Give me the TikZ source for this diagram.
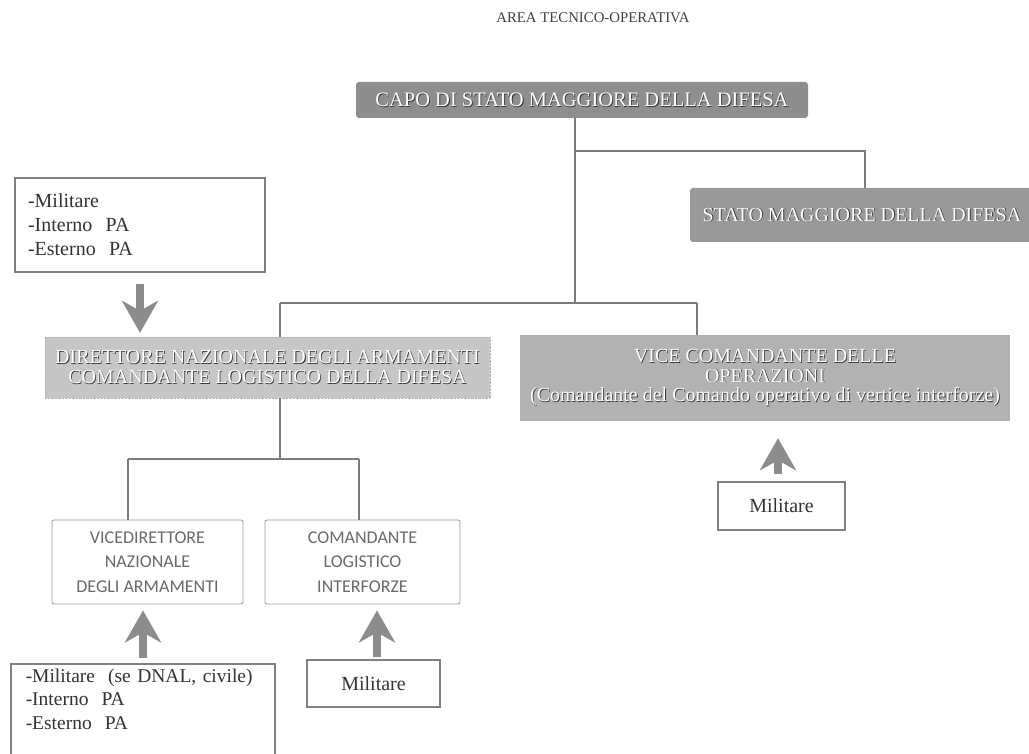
\documentclass[tikz,border=0pt]{standalone}
\usepackage{fontspec}
\setmainfont{Liberation Serif}
\newfontfamily\carl{Carlito}
\usetikzlibrary{arrows.meta,calc}
\newcommand\emb[1]{\rlap{\hspace{0.8pt}\raisebox{-0.8pt}{\textcolor{black!80}{#1}}}\textcolor{white}{#1}}
\definecolor{linec}{HTML}{7C7C7C}
\definecolor{darkfill}{HTML}{8E8E8E}
\definecolor{midfill}{HTML}{B2B2B2}
\definecolor{lightfill}{HTML}{C6C6C6}
\definecolor{sanstext}{HTML}{6A6A6A}
\begin{document}
\begin{tikzpicture}[x=1pt,y=-1pt,
  conn/.style={draw=linec, line width=1.3pt},
  darkbox/.style={fill=darkfill, rounded corners=3pt, inner sep=0pt, align=center,
    font=\fontsize{20.5}{20.5}\selectfont},
  embbox/.style={inner sep=0pt, align=center, font=\fontsize{20}{19.5}\selectfont},
  listbox/.style={draw=black!50, line width=1.5pt, fill=white, align=left,
    font=\fontsize{20}{24}\selectfont, text=black!80},
  sansbox/.style={draw=black!40, line width=0.8pt, rounded corners=2pt, fill=white,
    align=center, font=\carl\fontsize{18}{24.5}\selectfont, text=sanstext, inner sep=0pt},
  barrow/.style={draw=black!45, line width=8pt,
    -{Stealth[length=32pt,width=36pt,inset=10pt,fill=black!45]}}
]
\useasboundingbox (0,0) rectangle (1029,754);
\clip (0,0) rectangle (1029,754);

\node[font=\fontsize{14.8}{17}\selectfont, text=black!75] (title) at (593,18) {AREA TECNICO-OPERATIVA};

\node[darkbox, minimum width=452pt, minimum height=36pt] (capo) at (582,100)
  {\emb{CAPO DI STATO MAGGIORE DELLA DIFESA}};
\node[darkbox, fill=darkfill!90!white, minimum width=350pt, minimum height=54pt,
  font=\fontsize{20}{20}\selectfont] (stato) at (865,215)
  {\emb{STATO MAGGIORE DELLA DIFESA}\hspace*{6pt}};

\node[embbox, fill=lightfill, draw=black!30, densely dotted, minimum width=445pt, minimum height=61pt] (dir) at (267.5,367.5)
  {\emb{DIRETTORE NAZIONALE DEGLI ARMAMENTI}\\\emb{COMANDANTE LOGISTICO DELLA DIFESA}};
\node[embbox, fill=midfill, minimum width=490pt, minimum height=86pt] (vice) at (765,378)
  {\emb{VICE COMANDANTE DELLE}\\\emb{OPERAZIONI}\\\emb{(Comandante del Comando operativo di vertice interforze)}};

\node[listbox, text width=224pt, inner xsep=13pt, minimum height=94pt] (lt) at (140,225)
  {-Militare\\-Interno~ PA\\-Esterno~ PA};

\node[sansbox, minimum width=191pt, minimum height=84pt] (vdir) at (147.5,562)
  {VICEDIRETTORE\\NAZIONALE\\DEGLI ARMAMENTI};
\node[sansbox, minimum width=195pt, minimum height=84pt] (cli) at (362.5,562)
  {COMANDANTE\\LOGISTICO\\INTERFORZE};

\node[listbox, anchor=north west, text width=234pt, inner xsep=15pt, inner ysep=5pt,
  font=\fontsize{19.5}{23.5}\selectfont] (bl) at (10,663)
  {-Militare~ (se DNAL, civile)\\-Interno~ PA\\-Esterno~ PA\rule[-40pt]{0pt}{40pt}};
\node[listbox, minimum width=133pt, minimum height=47pt, align=center] (mil1) at (373.5,683.5) {Militare};
\node[listbox, minimum width=127pt, minimum height=48pt, align=center] (mil2) at (781.5,506) {Militare};

% connectors
\coordinate (j0) at (575,303);
\coordinate (jL) at (280,303);
\coordinate (jR) at (697,303);
\coordinate (js) at (575,151);
\draw[conn] (capo.south -| j0) -- (j0);
\draw[conn] (jL) -- (jR);
\draw[conn] (jL) -- (jL |- dir.north);
\draw[conn] (jR) -- (jR |- vice.north);
\draw[conn] (js) -| (stato.north);

\coordinate (k0) at (280,459);
\coordinate (kL) at (128,459);
\coordinate (kR) at (359,459);
\draw[conn] (dir.south -| k0) -- (k0);
\draw[conn] (kL) -- (kR);
\draw[conn] (kL) -- (kL |- vdir.north);
\draw[conn] (kR) -- (kR |- cli.north);

% block arrows
\draw[barrow, shorten <=11pt, shorten >=4pt] (lt.south) -- (lt.south |- dir.north);
\draw[barrow, shorten <=5pt, shorten >=6pt] (bl.north -| 143,0) -- (vdir.south -| 143,0);
\draw[barrow, shorten <=2pt, shorten >=6pt] (mil1.north -| 377,0) -- (cli.south -| 377,0);
\draw[barrow, shorten <=7pt, shorten >=17pt] (mil2.north -| 778,0) -- (vice.south -| 778,0);
\end{tikzpicture}
\end{document}
